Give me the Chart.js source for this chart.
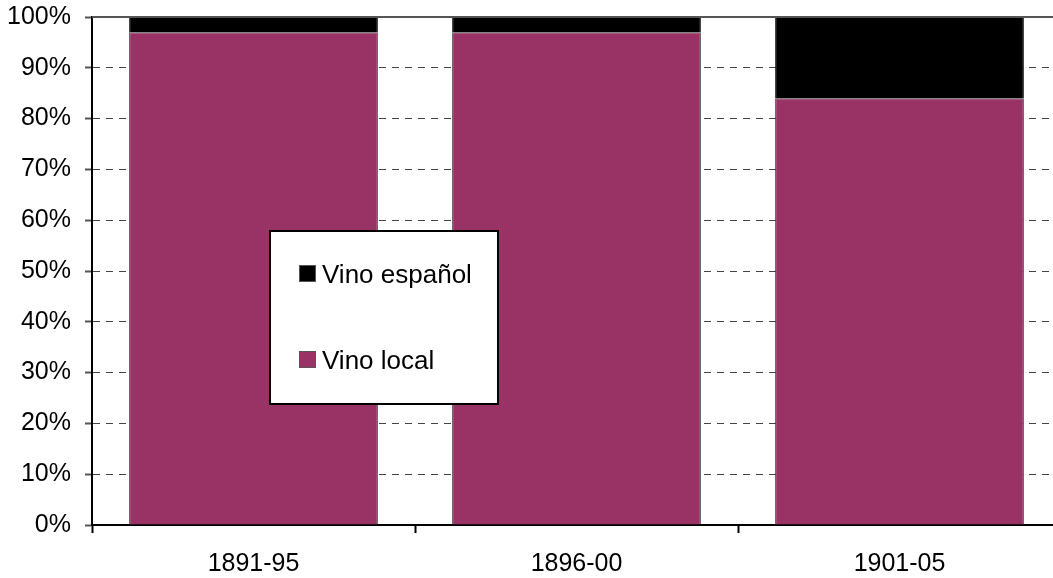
<!DOCTYPE html>
<html lang="es">
<head>
<meta charset="UTF-8">
<title>Vino local y vino español</title>
<style>
  html, body { margin: 0; padding: 0; background: #fff; overflow: hidden; }
  .wrap { position: relative; width: 1061px; height: 578px; }
</style>
</head>
<body>
<div class="wrap"><canvas id="chart"></canvas></div>
<script src="https://cdn.jsdelivr.net/npm/chart.js@4/dist/chart.umd.min.js"></script>
<script>
// data
const periods = ['1891-95', '1896-00', '1901-05'];
const vinoLocal = [97, 97, 84];
const vinoEspanol = [3, 3, 16];
const yTicks = [0, 10, 20, 30, 40, 50, 60, 70, 80, 90, 100];

const FONT = 'Liberation Sans, Arial, sans-serif';

// legend box drawn inside the plot, like the original
const boxLegend = {
  id: 'boxLegend',
  afterDraw(chart) {
    const ctx = chart.ctx;
    ctx.save();
    ctx.fillStyle = '#fff';
    ctx.fillRect(270, 231, 228, 173);
    ctx.lineWidth = 2;
    ctx.strokeStyle = '#000';
    ctx.strokeRect(270, 231, 228, 173);
    const items = chart.data.datasets.slice().reverse();
    ctx.font = '26px ' + FONT;
    ctx.textBaseline = 'alphabetic';
    items.forEach((ds, i) => {
      const y = 265 + i * 86;
      ctx.fillStyle = ds.backgroundColor;
      ctx.fillRect(299, y, 17, 17);
      ctx.lineWidth = 1;
      ctx.strokeStyle = '#555';
      ctx.strokeRect(299.5, y + 0.5, 16, 16);
      ctx.fillStyle = '#000';
      ctx.fillText(ds.label, 322, y + 18);
    });
    // top edge of the plot
    const a = chart.chartArea;
    ctx.strokeStyle = '#555';
    ctx.lineWidth = 2;
    ctx.beginPath();
    ctx.moveTo(a.left, a.top);
    ctx.lineTo(a.right, a.top);
    ctx.stroke();
    ctx.restore();
  }
};

new Chart(document.getElementById('chart'), {
  type: 'bar',
  data: {
    labels: periods,
    datasets: [{
      label: 'Vino local',
      data: vinoLocal,
      backgroundColor: '#993366',
      borderColor: '#333',
      borderWidth: 1,
      categoryPercentage: 1,
      barPercentage: 0.77
    }, {
      label: 'Vino español',
      data: vinoEspanol,
      backgroundColor: '#000000',
      borderColor: '#000',
      borderWidth: 1,
      categoryPercentage: 1,
      barPercentage: 0.77
    }]
  },
  options: {
    responsive: true,
    maintainAspectRatio: false,
    animation: false,
    layout: { padding: { top: 17, left: 0, right: 0, bottom: 0 } },
    plugins: {
      legend: { display: false },
      tooltip: { enabled: false }
    },
    scales: {
      x: {
        stacked: true,
        grid: {
          offset: true,
          drawOnChartArea: false,
          drawTicks: true,
          tickLength: 8,
          tickColor: '#000',
          tickWidth: 2
        },
        border: { display: true, color: '#000', width: 2 },
        ticks: {
          color: '#000',
          padding: 16,
          maxRotation: 0,
          font: { family: FONT, size: 25 }
        },
        afterFit(scale) {
          scale.height = 53;
          scale.paddingLeft = 0;
          scale.paddingRight = 0;
        }
      },
      y: {
        stacked: true,
        min: 0,
        max: 100,
        afterBuildTicks(scale) {
          scale.ticks = yTicks.map(v => ({ value: v }));
        },
        grid: {
          color: '#444',
          lineWidth: 1,
          drawTicks: true,
          tickLength: 7,
          tickColor: '#555',
          tickWidth: 2,
          tickBorderDash: []
        },
        border: { display: true, color: '#000', width: 2, dash: [7, 6] },
        ticks: {
          color: '#000',
          padding: 14,
          font: { family: FONT, size: 25 },
          callback: v => v + '%'
        },
        afterFit(scale) {
          scale.width = 92;
          scale.paddingTop = 0;
          scale.paddingBottom = 0;
        }
      }
    }
  },
  plugins: [boxLegend]
});
</script>
</body>
</html>
